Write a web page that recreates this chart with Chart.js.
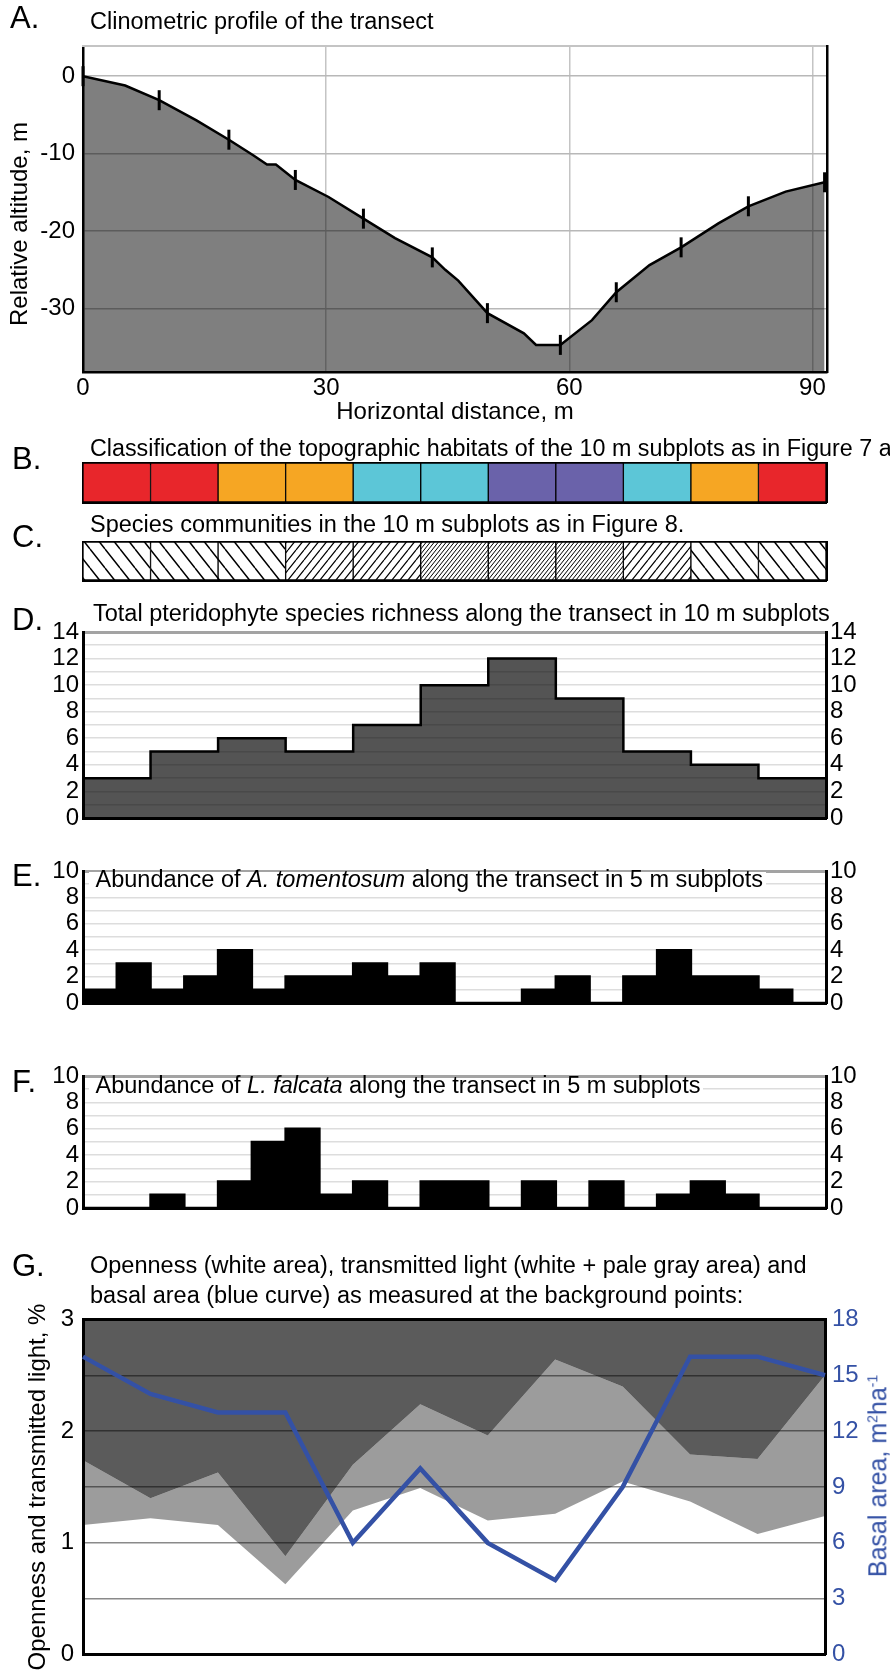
<!DOCTYPE html>
<html><head><meta charset="utf-8">
<script src="https://cdn.jsdelivr.net/npm/chart.js@4.4.1/dist/chart.umd.min.js"></script>
<style>
html,body{margin:0;padding:0;background:#fff;}
body{width:890px;height:1678px;position:relative;overflow:hidden;font-family:"Liberation Sans",Arial,sans-serif;color:#000;}
canvas{position:absolute;left:0;}
.t{position:absolute;white-space:nowrap;font-size:23.5px;line-height:1;z-index:2;}
.L{position:absolute;font-size:31px;line-height:1;z-index:2;}
.box{background:#fff;line-height:14px;font-size:23.5px;padding-right:3px;}
</style></head><body>

<div class="L" style="left:10px;top:2px">A.</div>
<div class="t" style="left:90px;top:10px">Clinometric profile of the transect</div>
<div class="t" style="left:19px;top:224px;font-size:24px;transform:translate(-50%,-50%) rotate(-90deg);">Relative altitude, m</div>
<div class="L" style="left:12px;top:443px">B.</div>
<div class="t" style="left:90px;top:437px;font-size:23.3px">Classification of the topographic habitats of the 10 m subplots as in Figure 7 a</div>
<div class="L" style="left:12px;top:521px">C.</div>
<div class="t" style="left:90px;top:513px">Species communities in the 10 m subplots as in Figure 8.</div>
<div class="L" style="left:12px;top:604px">D.</div>
<div class="t" style="left:93px;top:602px">Total pteridophyte species richness along the transect in 10 m subplots</div>
<div class="L" style="left:12px;top:860px">E.</div>
<div class="t box" style="left:89px;top:872px">&nbsp;Abundance of <i>A. tomentosum</i> along the transect in 5 m subplots</div>
<div class="L" style="left:12px;top:1066px">F.</div>
<div class="t box" style="left:89px;top:1078px">&nbsp;Abundance of <i>L. falcata</i> along the transect in 5 m subplots</div>
<div class="L" style="left:12px;top:1250px">G.</div>
<div class="t" style="left:90px;top:1250px;line-height:30px">Openness (white area), transmitted light (white + pale gray area) and<br>basal area (blue curve) as measured at the background points:</div>
<div class="t" style="left:878px;top:1476px;font-size:25px;color:#3451a5;transform:translate(-50%,-50%) rotate(-90deg);">Basal area, m<sup style="font-size:14px">2</sup>ha<sup style="font-size:14px">-1</sup></div>

<canvas id="cA" width="890" height="432" style="top:0px"></canvas>
<canvas id="cB" width="890" height="65" style="top:450px"></canvas>
<canvas id="cC" width="890" height="62" style="top:530px"></canvas>
<canvas id="cD" width="890" height="245" style="top:600px"></canvas>
<canvas id="cE" width="890" height="180" style="top:850px"></canvas>
<canvas id="cF" width="890" height="180" style="top:1052px"></canvas>
<canvas id="cG" width="890" height="382" style="top:1296px"></canvas>

<script>
// ---------- DATA ----------
// A. clinometric profile (horizontal distance m, relative altitude m)
const profileX = [0, 5.2, 9.4, 14.0, 18.0, 21.0, 22.7, 23.8, 26.2, 30.3, 34.6, 38.5, 43.1, 44.7, 46.3, 49.9, 54.4, 55.9, 58.9, 62.8, 65.8, 69.9, 73.8, 78.4, 82.1, 86.7, 91.5];
const profileY = [0, -1.2, -3.1, -5.7, -8.2, -10.2, -11.4, -11.4, -13.4, -15.6, -18.4, -20.9, -23.4, -25.0, -26.4, -30.6, -33.2, -34.7, -34.7, -31.5, -27.9, -24.4, -22.1, -19.0, -16.8, -14.9, -13.7];
// 10 m slope-distance markers along the profile
const markerX = [0, 9.4, 18.0, 26.2, 34.6, 43.1, 49.9, 58.9, 65.8, 73.8, 82.1, 91.5];
const markerY = [0, -3.1, -8.2, -13.4, -18.4, -23.4, -30.6, -34.7, -27.9, -22.1, -16.8, -13.7];
const distanceTicks = [0, 30, 60, 90];
const altitudeTicks = [-30, -20, -10, 0];

// B. / C. 10 m subplots
const subplots10 = ['1','2','3','4','5','6','7','8','9','10','11'];
const habitatClass = ['ridge','ridge','upper slope','upper slope','lower slope','lower slope','valley bottom','valley bottom','lower slope','upper slope','ridge'];
const communityType = ['I','I','I','II','II','III','III','III','II','I','I'];

// D. species richness per 10 m subplot
const richness = [3, 5, 6, 5, 7, 10, 12, 9, 5, 4, 3];
const richnessTickLabels = [0, 2, 4, 6, 8, 10, 12, 14];

// E. / F. abundance per 5 m subplot
const tomentosum = [1, 3, 1, 2, 4, 1, 2, 2, 3, 2, 3, 0, 0, 1, 2, 0, 2, 4, 2, 2, 1, 0];
const falcata    = [0, 0, 1, 0, 2, 5, 6, 1, 2, 0, 2, 2, 0, 2, 0, 2, 0, 1, 2, 1, 0, 0];
const abundanceTickLabels = [0, 2, 4, 6, 8, 10];

// G. background points
const backgroundPoints = ['P1','P2','P3','P4','P5','P6','P7','P8','P9','P10','P11','P12'];
const transmitted = [1.74, 1.40, 1.63, 0.88, 1.70, 2.24, 1.96, 2.64, 2.40, 1.79, 1.75, 2.50];
const openness    = [1.16, 1.22, 1.16, 0.63, 1.29, 1.49, 1.20, 1.26, 1.55, 1.37, 1.08, 1.24];
const basalArea   = [16, 14, 13, 13, 6, 10, 6, 4, 9, 16, 16, 15];
const lightTickLabels = [0, 1, 2, 3];
const basalTicks = [0, 3, 6, 9, 12, 15, 18];

// ---------- STYLE ----------
Chart.defaults.font.family = '"Liberation Sans", Arial, sans-serif';
Chart.defaults.color = '#000';
Chart.defaults.animation = false;
Chart.defaults.responsive = false;
Chart.defaults.events = [];
Chart.defaults.plugins.legend.display = false;
Chart.defaults.plugins.tooltip.enabled = false;

const BLUE = '#3451a5';
const NONE = 'rgba(0,0,0,0)';
const TICK_FONT = { size: 24 };
const habitatColors = {'ridge':'#e8262b','upper slope':'#f6a623','lower slope':'#5cc6d7','valley bottom':'#6a62aa'};

function hatch(w, h, dir, lw) {
  const c = document.createElement('canvas'); c.width = w; c.height = h;
  const g = c.getContext('2d');
  g.fillStyle = '#fff'; g.fillRect(0, 0, w, h);
  g.strokeStyle = '#000'; g.lineWidth = lw; g.beginPath();
  for (const o of [-w, 0, w]) {
    if (dir === 'back') { g.moveTo(o, 0); g.lineTo(o + w, h); }
    else { g.moveTo(o, h); g.lineTo(o + w, 0); }
  }
  g.stroke();
  return g.createPattern(c, 'repeat');
}
const communityPatterns = { 'I': hatch(15, 19, 'back', 1.5), 'II': hatch(8, 10, 'fwd', 1.2), 'III': hatch(4, 5, 'fwd', 1.0) };

function frame(pos, color, width, size) {
  return { type: 'linear', position: pos, display: true, min: 0, max: 1,
    ticks: { display: false }, grid: { display: false },
    border: { display: true, color: color, width: width },
    afterFit: s => { if (s.isHorizontal()) s.height = size; else s.width = size; } };
}
function setTicks(arr) { return s => { s.ticks = arr.map(v => ({ value: v })); }; }
function stepData(vals) {
  const d = vals.map((v, i) => ({ x: i, y: v }));
  d.push({ x: vals.length, y: vals[vals.length - 1] });
  return d;
}

// ---------- A ----------
new Chart(document.getElementById('cA'), {
  type: 'line',
  data: { datasets: [
    { data: profileX.map((x, i) => ({ x: x, y: profileY[i] })), borderColor: '#000', borderWidth: 2.5,
      pointRadius: 0, fill: 'start', backgroundColor: 'rgba(0,0,0,0.5)', order: 2 },
    { data: markerX.map((x, i) => ({ x: x, y: markerY[i] })), showLine: false, pointStyle: 'line',
      rotation: 90, pointRadius: 10, borderColor: '#000', borderWidth: 3, clip: false, order: 1 }
  ]},
  options: {
    layout: { padding: { top: 46, left: 0, right: 0, bottom: 0 } },
    scales: {
      x: { type: 'linear', min: 0, max: 91.8, afterBuildTicks: setTicks(distanceTicks),
        ticks: { font: TICK_FONT, padding: 2, maxRotation: 0 },
        grid: { color: c => (c.tick && c.tick.value === 0) ? NONE : '#c4c4c4', lineWidth: 1.5, drawTicks: false },
        border: { color: '#000', width: 2.5 },
        title: { display: true, text: 'Horizontal distance, m', font: { size: 24 }, padding: { top: 0, bottom: 5 } },
        afterFit: s => { s.height = 60; } },
      y: { type: 'linear', min: -38.2, max: 3.9, afterBuildTicks: setTicks(altitudeTicks),
        ticks: { font: TICK_FONT, padding: 8 },
        grid: { color: '#b8b8b8', lineWidth: 1.5, drawTicks: false },
        border: { color: '#000', width: 2.5 },
        afterFit: s => { s.width = 83; } },
      xTop: frame('top', '#c4c4c4', 2, 0),
      yRight: frame('right', '#000', 2.5, 63)
    }
  }
});

// ---------- B / C ----------
function stripChart(id, fills, padTop, padBottom) {
  new Chart(document.getElementById(id), {
    type: 'bar',
    data: { labels: subplots10, datasets: [{ data: subplots10.map(() => 1), backgroundColor: fills,
      borderColor: '#000', borderWidth: 1, borderSkipped: false, barPercentage: 1, categoryPercentage: 1 }] },
    options: {
      layout: { padding: { top: padTop, bottom: padBottom, left: 0, right: 0 } },
      scales: {
        x: { type: 'category', display: true, ticks: { display: false }, grid: { display: false },
          border: { color: '#000', width: 3 }, afterFit: s => { s.height = 0; } },
        y: { type: 'linear', min: 0, max: 1, ticks: { display: false }, grid: { display: false },
          border: { color: '#000', width: 3 }, afterFit: s => { s.width = 83; } },
        xTop: frame('top', '#000', 3, 0),
        yRight: frame('right', '#000', 3, 64)
      }
    }
  });
}
stripChart('cB', habitatClass.map(c => habitatColors[c]), 13, 13);
stripChart('cC', communityType.map(c => communityPatterns[c]), 12, 12);

// ---------- D / E / F ----------
function stepChart(id, vals, max, labels, fillColor, padTop, padBottom) {
  const yCommon = { type: 'linear', min: 0, max: max,
    ticks: { stepSize: 1, autoSkip: false, font: TICK_FONT, padding: 4,
      callback: v => labels.includes(v) ? String(v) : '' },
    border: { color: '#000', width: 3 } };
  new Chart(document.getElementById(id), {
    type: 'line',
    data: { datasets: [{ data: stepData(vals), stepped: true, borderColor: '#000', borderWidth: 2.5,
      pointRadius: 0, fill: 'origin', backgroundColor: fillColor }] },
    options: {
      layout: { padding: { top: padTop, bottom: padBottom, left: 0, right: 0 } },
      scales: {
        x: { type: 'linear', min: 0, max: vals.length, display: true, ticks: { display: false },
          grid: { display: false }, border: { color: '#000', width: 3 }, afterFit: s => { s.height = 0; } },
        y: Object.assign({}, yCommon, { position: 'left',
          grid: { drawTicks: false,
            color: c => c.tick.value === max ? '#a3a3a3' : (c.tick.value === 0 ? NONE : '#dddddd'),
            lineWidth: c => c.tick.value === max ? 3 : 1.6 },
          afterFit: s => { s.width = 83; } }),
        yRight: Object.assign({}, yCommon, { position: 'right', grid: { display: false, drawTicks: false },
          afterFit: s => { s.width = 64; } })
      }
    }
  });
}
stepChart('cD', richness, 14, richnessTickLabels, 'rgba(0,0,0,0.67)', 32, 27);
stepChart('cE', tomentosum, 10, abundanceTickLabels, '#000', 21, 27);
stepChart('cF', falcata, 10, abundanceTickLabels, '#000', 24, 24);

// ---------- G ----------
new Chart(document.getElementById('cG'), {
  type: 'line',
  data: { labels: backgroundPoints, datasets: [
    { label: 'Transmitted light', data: transmitted, borderColor: NONE, borderWidth: 0, pointRadius: 0,
      fill: 'end', backgroundColor: 'rgba(0,0,0,0.645)', order: 3 },
    { label: 'Openness', data: openness, borderColor: NONE, borderWidth: 0, pointRadius: 0,
      fill: '-1', backgroundColor: 'rgba(0,0,0,0.39)', order: 2 },
    { label: 'Basal area', data: basalArea, yAxisID: 'yB', borderColor: BLUE, borderWidth: 4.5,
      pointRadius: 0, fill: false, order: 1 }
  ]},
  options: {
    layout: { padding: { top: 20, bottom: 8, left: 0, right: 0 } },
    scales: {
      x: { type: 'category', display: true, ticks: { display: false }, grid: { display: false },
        border: { color: '#000', width: 3 }, afterFit: s => { s.height = 0; } },
      y: { type: 'linear', position: 'left', min: 0, max: 3,
        ticks: { stepSize: 0.5, autoSkip: false, font: TICK_FONT, padding: 9,
          callback: v => lightTickLabels.includes(v) ? String(v) : '' },
        grid: { drawTicks: false, lineWidth: 1.5,
          color: c => (c.tick.value === 0 || c.tick.value === 3) ? NONE : '#8a8a8a' },
        border: { color: '#000', width: 3 },
        title: { display: true, text: 'Openness and transmitted light, %', font: { size: 24 }, padding: { top: 24, bottom: 0 } },
        afterFit: s => { s.width = 83; } },
      yB: { type: 'linear', position: 'right', min: 0, max: 18, afterBuildTicks: setTicks(basalTicks),
        ticks: { color: BLUE, font: TICK_FONT, padding: 7 },
        grid: { display: false, drawTicks: false },
        border: { color: '#000', width: 3 },
        afterFit: s => { s.width = 65; } },
      xTop: frame('top', '#000', 3, 0)
    }
  }
});
</script>
</body></html>
